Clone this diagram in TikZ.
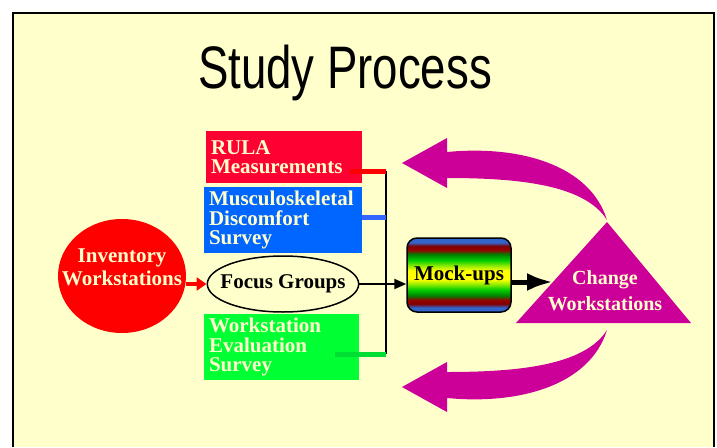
\documentclass[tikz,border=0pt]{standalone}
\usepackage{fontspec}
\setmainfont{Liberation Serif}
\newfontfamily\titlefont{Liberation Sans}
\usetikzlibrary{calc,shapes.geometric,arrows.meta}

\definecolor{paper}{HTML}{FFFFCC}
\definecolor{rulared}{HTML}{FF0033}
\definecolor{mskblue}{HTML}{0066FF}
\definecolor{wesgreen}{HTML}{00FF33}
\definecolor{invred}{HTML}{FF0000}
\definecolor{stubblue}{HTML}{3366FF}
\definecolor{stubgreen}{HTML}{00DD33}
\definecolor{chgmag}{HTML}{CC0099}
\definecolor{mkblue}{HTML}{3366CC}
\definecolor{mkdark}{HTML}{800000}
\definecolor{mkred}{HTML}{990000}
\definecolor{mkgreen}{HTML}{008000}
\definecolor{mklime}{HTML}{00CC00}
\definecolor{mkyg}{HTML}{99EE00}
\definecolor{mkyellow}{HTML}{FFFF00}

\pgfdeclareverticalshading{rainbow}{100bp}{color(0bp)=(mkblue); color(25bp)=(mkblue);
  color(28bp)=(mkblue); color(30.5bp)=(mkdark); color(33bp)=(mkred); color(36bp)=(mkgreen);
  color(40bp)=(mklime); color(44bp)=(mkyg); color(47bp)=(mkyellow); color(53bp)=(mkyellow);
  color(56bp)=(mkyg); color(60bp)=(mklime); color(64bp)=(mkgreen); color(67bp)=(mkred);
  color(69.5bp)=(mkdark); color(72bp)=(mkblue); color(75bp)=(mkblue); color(100bp)=(mkblue)}

\begin{document}
\begin{tikzpicture}[x=1pt,y=-1pt,
    box/.style={rectangle, inner xsep=5pt, inner ysep=4pt, align=left, text=paper,
        font=\bfseries\fontsize{21}{19.5}\selectfont},
    stub/.style={line width=5pt},
    flow/.style={line width=2pt, -{Triangle[length=12pt,width=10pt]}},
    swoop/.style={fill=chgmag}]

    % Page and frame
    \useasboundingbox (0,0) rectangle (717,447);
    \fill[white] (0,0) rectangle (717,447);
    \fill[paper] (13,13) rectangle (714,447);
    \draw[line width=1.5pt] (13,447) -- (13,13) -- (714,13) -- (714,447);

    % Title
    \node[font=\titlefont\fontsize{60}{60}\selectfont, anchor=base] (title) at (345,88)
        {\scalebox{0.76}[1]{Study Process}};

    % Measurement boxes
    \node[box, fill=rulared, text width=146pt, minimum height=52pt] (rula) at (284,157)
        {RULA\\Measurements};
    \node[box, fill=mskblue, text width=148pt, minimum height=66pt] (msd) at (283,220)
        {Musculoskeletal\\Discomfort\\Survey};
    \node[box, fill=wesgreen, text width=145pt, minimum height=66pt] (wes) at (281.5,347)
        {Workstation\\Evaluation\\Survey};

    % Bus collecting the measurements
    \coordinate (busR) at (386,171);
    \coordinate (busB) at (386,217);
    \coordinate (busG) at (386,354);
    \draw[line width=2pt] (busR) -- (busG);
    \draw[stub, invred] ($(rula.east |- busR)+(-12,0)$) -- (busR);
    \draw[stub, stubblue] (msd.east |- busB) -- (busB);
    \draw[stub, stubgreen] ($(wes.east |- busG)+(-24,0)$) -- (busG);

    % Inventory and focus groups
    \node[ellipse, fill=invred, minimum width=128pt, minimum height=114pt,
        inner xsep=-16pt, inner ysep=0pt, align=center, text=paper, text depth=18pt,
        font=\bfseries\fontsize{21}{23}\selectfont] (inv) at (122,276) {Inventory\\Workstations};
    \node[ellipse, draw, line width=1.5pt, fill=paper, minimum width=147pt, minimum height=56pt,
        inner xsep=-9pt, inner ysep=0pt,
        font=\bfseries\fontsize{21}{21}\selectfont] (focus) at (283,284) {Focus Groups};
    \draw[invred, line width=4pt, -{Triangle[length=10pt,width=13pt]}]
        (inv.east |- focus.west) -- (focus.west);

    % Mock-ups
    \node[rectangle, rounded corners=10pt, draw, line width=1.5pt, shading=rainbow,
        minimum width=104pt, minimum height=74pt,
        font=\bfseries\fontsize{21}{21}\selectfont] (mock) at (459,275) {Mock-ups};
    \draw[flow] (focus.east) -- (focus.east -| mock.west);

    % Change workstations (triangle)
    \coordinate (chgL) at (516,323);
    \coordinate (chgR) at (691,323);
    \coordinate (chgT) at (607,222);
    \coordinate (chgIn) at (553,282);
    \fill[chgmag] (chgL) -- (chgT) -- (chgR) -- cycle;
    \node[align=center, text=paper, font=\bfseries\fontsize{20}{26}\selectfont] (change)
        at (605,291) {Change\\Workstations};
    \draw[line width=5pt, -{Latex[length=26pt,width=18pt]}] (mock.east |- chgIn) -- (chgIn);

    % Feedback swoops
    \path[swoop] (607,220) .. controls (590,165) and (520,145) .. (447,152)
        -- (447,138) -- (402,163) -- (447,188) -- (447,178)
        .. controls (520,178) and (585,185) .. (607,220) -- cycle;
    \path[swoop] (607,330) .. controls (590,385) and (520,405) .. (447,398)
        -- (447,412) -- (402,387) -- (447,362) -- (447,372)
        .. controls (520,372) and (585,365) .. (607,330) -- cycle;

\end{tikzpicture}
\end{document}
